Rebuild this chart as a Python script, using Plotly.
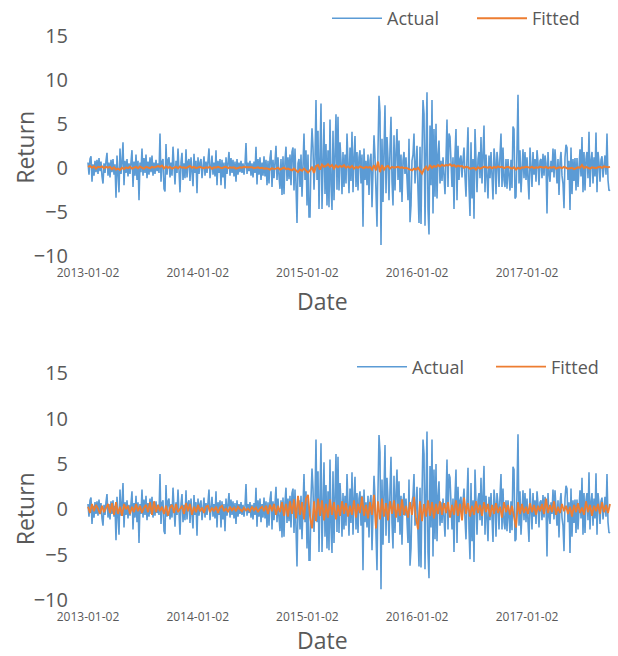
import pandas as pd
import plotly.graph_objects as go

# ---------------- data ----------------
actual = [
    0.6, -0.8, 1.0, 1.3, -1.6, 0.4, -0.9, 0.8, -0.5, 0.9,
    -0.7, 1.1, -0.4, 0.7, -1.0, -1.8, 0.5, -0.6, 0.8, 1.7,
    -0.9, 0.6, -1.1, 0.9, -0.5, 1.0, -0.8, 0.4, -3.4, 1.4,
    -0.6, -2.8, 2.2, -0.7, 0.6, 2.9, -2.0, 0.8, -0.6, 1.0,
    -1.0, 0.5, -0.7, 0.9, 2.0, -2.2, 0.7, -0.9, 1.5, -1.4,
    0.8, -3.7, 0.6, -0.5, 2.2, -0.9, 1.1, -0.6, 1.5, -1.2,
    0.7, -0.8, 1.2, -0.5, 1.4, -0.9, 0.6, -0.7, 0.9, -0.4,
    0.5, -0.6, 3.9, -1.6, 0.7, 1.0, -2.4, -2.7, 2.7, -0.8,
    0.9, 1.2, -1.1, 0.6, -0.9, 2.4, -0.5, -1.9, 0.8, -0.6,
    2.2, -0.7, -2.8, 0.6, 1.7, -1.4, 0.5, -1.2, 2.1, -1.1,
    0.7, 1.0, -1.5, 1.2, -0.8, -2.1, 1.6, -0.6, 0.8, -2.9,
    1.2, -0.7, 0.6, 1.0, -1.2, 0.5, 1.3, -0.9, 0.7, -0.6,
    0.9, 2.2, -1.2, 0.5, 1.4, -0.8, 0.6, -1.0, 2.0, -2.0,
    0.8, -0.6, 1.0, -2.0, 0.9, -1.1, 0.6, -2.4, 1.2, -0.7,
    0.8, 1.8, -0.9, 1.1, -0.6, 0.9, -1.0, 0.7, -1.6, 1.0,
    -0.8, 0.6, -0.5, 0.8, -0.6, 0.5, -0.8, 0.4, 2.8, -0.7,
    0.6, -0.4, 0.8, -0.9, 0.5, -1.1, 0.7, -0.6, 2.4, -1.9,
    1.0, -0.8, 1.2, -1.4, 0.6, -0.9, 1.3, -1.0, 0.9, -2.0,
    0.8, -1.8, 1.1, 2.0, -2.2, 0.9, -1.2, 1.0, 2.5, -1.4,
    1.2, -0.9, -2.4, 1.0, -3.1, 1.3, -3.0, 0.8, 2.4, -1.5,
    1.2, -1.3, 1.5, -2.0, 1.8, 2.3, -2.6, 2.2, -1.5, -6.3,
    0.5, 1.0, -2.2, 1.5, -3.3, 1.8, 3.9, -1.4, 2.0, -4.3,
    1.5, -5.6, -5.6, 1.2, 4.5, 2.3, -2.5, 1.0, 7.7, -1.4,
    4.2, -4.7, 2.5, 7.3, -4.7, 1.8, 5.2, -3.0, 2.7, -4.3,
    2.0, -4.5, 5.5, -2.0, -4.8, 4.2, -3.7, 1.5, 6.1, -2.5,
    5.8, -2.6, 2.9, 0.8, -3.0, 1.8, -2.2, 1.5, -1.8, 3.9,
    0.5, -2.9, 2.3, -1.5, 4.1, -2.8, 1.2, 3.6, -2.2, 1.8,
    -2.6, 1.2, 2.0, -1.8, 1.5, -6.7, 2.2, -1.4, 0.8, -2.0,
    1.5, -3.1, 0.8, 1.6, -4.5, 1.0, 3.7, 1.2, -2.5, -6.7,
    2.0, 8.2, 6.3, -8.8, 3.3, -3.9, 2.0, 7.1, -2.9, 3.5,
    1.0, -3.7, 2.2, 5.8, -1.5, -4.3, 3.7, -2.6, 1.8, 4.4,
    -1.4, 3.1, -2.8, 1.5, -3.9, 0.8, 1.8, -0.7, 1.2, -1.5,
    -3.7, 3.3, -6.2, -4.3, 0.8, 1.5, 3.9, -1.8, 1.0, 2.5,
    -2.6, -6.3, 2.4, -6.4, 1.5, 7.7, 6.1, -6.6, 2.0, 8.6,
    -4.7, -7.6, 4.8, -2.0, 7.7, -5.2, 4.4, -3.3, 5.0, -3.5,
    1.5, 3.1, -1.8, 0.8, -1.5, 1.2, -0.9, -3.0, 1.0, 5.5,
    -2.2, 3.9, 3.5, 0.5, -2.2, 1.2, -4.7, 1.5, 4.4, -3.7,
    2.5, -1.4, 1.0, 1.4, -1.1, 0.8, 2.3, -1.0, -3.3, 1.2,
    4.6, -2.2, -5.5, 2.9, -3.5, 1.0, -5.8, 4.4, 1.2, -2.8,
    1.0, 1.8, -1.2, 3.5, -1.8, 1.0, 4.8, -2.8, 1.5, -1.0,
    -3.5, 1.4, -1.2, 1.8, -0.8, -3.6, 2.2, 0.8, -3.0, 1.8,
    0.6, -2.2, 1.5, 3.9, -2.2, 2.3, -1.4, -2.2, 1.0, -2.4,
    1.0, -0.8, -2.6, 0.9, -2.3, 4.7, 4.4, -3.5, -3.3, 2.1,
    8.3, -1.8, 2.0, -2.8, 0.8, 2.1, -1.2, 1.8, -1.4, 1.2,
    -1.4, -3.6, 2.3, 0.5, -2.2, 1.8, -0.8, 1.0, -1.6, 2.0,
    0.6, -2.0, 0.8, 1.0, -1.2, 1.6, -0.9, 1.4, 0.5, -5.2,
    1.8, -0.6, -1.6, 0.8, -0.5, 2.2, -1.1, 2.1, 0.6, -1.8,
    1.0, -3.1, 0.6, 1.8, -0.9, -1.8, -4.6, 1.2, 2.6, 2.3,
    -1.4, 0.8, -4.8, 2.3, -3.0, 1.0, -1.5, 1.1, -2.6, 1.1,
    -2.2, 0.9, 2.1, -1.0, 3.5, -2.8, 1.8, -2.6, 1.0, 1.8,
    -1.2, 4.1, -2.2, 0.8, 1.8, -1.8, 1.2, -1.0, 4.0, -2.8,
    1.8, 0.6, -1.6, 0.9, 1.3, -1.1, 0.7, 1.4, -0.8, 3.9,
    -1.4, -2.6, -2.5,
]

fitted_top = [
    0.1, 0.2, 0.0, 0.15, -0.1, 0.1, 0.05, 0.15, -0.05, 0.1,
    0.0, 0.1, -0.15, 0.05, -0.2, -0.1, -0.25, 0.0, -0.15, 0.05,
    -0.05, 0.1, -0.1, 0.05, 0.1, -0.05, 0.15, 0.0, -0.1, 0.1,
    0.05, -0.05, 0.1, 0.0, 0.1, 0.2, 0.1, 0.25, -0.05, 0.15,
    0.0, 0.1, -0.1, 0.05, 0.1, -0.05, 0.15, 0.0, 0.05, -0.05,
    0.1, 0.2, 0.0, 0.1, -0.05, 0.05, 0.1, 0.0, -0.05, 0.05,
    0.0, 0.1, -0.1, 0.05, 0.0, 0.1, 0.05, -0.05, 0.05, 0.1,
    -0.05, 0.05, 0.0, 0.05, -0.1, 0.0, 0.05, 0.0, 0.1, 0.05,
    0.05, 0.0, 0.05, -0.05, 0.0, 0.05, -0.05, 0.0, -0.1, -0.05,
    -0.1, -0.2, -0.05, -0.15, -0.1, 0.0, -0.2, -0.1, 0.0, -0.15,
    -0.1, -0.2, -0.3, -0.1, -0.25, -0.5, -0.2, -0.35, -0.1, -0.3,
    -0.55, -0.3, 0.1, -0.6, 0.2, 0.3, -0.2, 0.35, 0.1, 0.2,
    0.4, 0.1, 0.3, -0.1, 0.25, 0.05, 0.2, 0.1, 0.3, 0.0,
    0.15, 0.0, 0.2, -0.1, 0.1, 0.0, 0.15, 0.05, -0.05, 0.1,
    0.0, 0.1, -0.2, 0.3, -0.3, 0.7, -0.5, 0.3, -0.2, 0.1,
    0.2, -0.1, 0.1, 0.0, 0.05, 0.1, 0.0, 0.05, -0.05, 0.0,
    -0.1, -0.2, -0.3, -0.1, -0.2, 0.0, -0.3, -0.65, -0.2, 0.1,
    -0.3, 0.3, 0.0, 0.2, 0.1, 0.3, 0.15, 0.35, 0.2, 0.3,
    0.25, 0.4, 0.2, 0.3, 0.1, 0.25, 0.15, 0.2, 0.0, 0.1,
    0.05, -0.1, -0.05, 0.0, -0.2, 0.05, -0.1, 0.0, 0.1, 0.05,
    0.0, 0.1, -0.05, 0.1, 0.0, 0.15, 0.05, 0.1, -0.05, 0.05,
    0.1, 0.0, -0.1, 0.05, -0.2, 0.0, -0.1, 0.05, 0.0, 0.1,
    0.05, 0.0, 0.1, -0.05, 0.05, 0.0, 0.1, 0.05, 0.0, 0.1,
    -0.05, 0.05, 0.0, 0.1, -0.1, 0.0, 0.05, -0.05, 0.1, 0.0,
    -0.1, -0.05, 0.0, -0.15, -0.05, 0.05, 0.0, 0.3, -0.05, 0.1,
    0.0, -0.1, 0.05, 0.0, -0.05, 0.05, 0.1, 0.0, 0.15, 0.1,
    0.05, 0.1,
]

fitted_bottom = [
    0.3, -0.4, 0.6, -0.2, 0.5, 0.1, -0.5, 0.4, -0.3, 0.2,
    0.6, -0.4, 0.7, -0.6, 0.8, -0.5, 0.3, -0.7, 0.6, 0.0,
    0.4, -0.5, 0.3, -0.3, 0.6, -0.2, 0.4, -0.4, 0.2, 0.5,
    -0.3, 0.8, -0.6, 0.9, -0.3, 0.5, -0.2, 0.3, -0.5, 0.4,
    -0.7, 0.2, 0.5, -0.4, 0.6, -0.3, 0.1, 0.4, -0.5, 0.7,
    -0.2, 0.6, -0.6, 0.3, -0.3, 0.5, -0.2, 0.2, -0.4, 0.3,
    0.4, -0.3, 0.2, -0.2, 0.3, -0.4, 0.2, 0.4, -0.2, 0.1,
    -0.3, 0.3, -0.1, 0.2, -0.2, 0.3, 0.0, -0.2, 0.2, -0.1,
    0.1, -0.2, 0.3, -0.1, 0.2, -0.3, 0.1, 0.3, -0.2, 0.4,
    -0.5, 0.5, -0.2, 0.6, -0.6, 0.4, -0.3, 0.8, -0.7, 0.6,
    -0.8, 0.9, -0.5, 1.1, -1.0, 1.5, -0.6, 0.8, -1.1, 1.2,
    1.6, -0.8, -2.1, 0.9, -1.3, 1.2, -0.7, 1.0, -1.2, 0.6,
    -0.9, 1.1, -0.6, 0.8, -1.1, 0.5, -0.7, 0.9, -0.5, 0.7,
    -0.8, 0.4, -0.6, 1.0, -0.9, 0.6, -0.4, 1.4, -0.7, 0.5,
    -1.0, 0.8, -0.6, 1.6, -2.1, 0.9, -1.1, 1.2, -0.8, 0.7,
    -1.2, 0.9, -0.5, 1.0, -0.9, 0.6, -0.7, 1.1, -0.6, 0.4,
    -0.9, 0.8, -0.6, 1.4, -1.0, -2.2, 0.9, -1.3, 0.6, -0.8,
    1.0, -0.7, 0.8, -1.0, 0.6, -0.5, 0.9, -0.6, 0.7, -0.4,
    0.8, -0.9, 0.5, -0.6, 1.0, -0.7, 0.6, -1.2, 1.3, -0.5,
    0.7, -0.8, 0.4, -0.6, 0.9, -0.4, 0.5, -0.7, 0.8, -0.3,
    0.6, -0.8, 0.5, -0.5, 0.7, -0.4, 0.3, -0.9, 0.8, -0.3,
    0.5, -0.6, 0.4, -0.7, -2.0, 0.8, -0.5, 0.6, -0.4, 0.3,
    -0.5, 0.7, -0.3, 0.5, -0.6, 0.4, -0.2, 0.6, -0.5, 1.2,
    -0.4, 0.5, -0.3, 0.9, -0.6, 0.3, -0.4, 0.6, -0.2, 0.4,
    -0.5, 0.3, -0.8, 0.5, -0.3, 0.7, -0.4, 0.2, -0.6, 0.9,
    -0.3, 0.5, -0.7, 0.4, -0.2, 0.6, -0.5, 0.8, -0.3, 0.5,
    -0.4, 0.6,
]

start_date = "2013-01-02"
end_date = "2017-10-05"
tick_labels = ["2013-01-02", "2014-01-02", "2015-01-02", "2016-01-02", "2017-01-02"]
y_ticks = [-10, -5, 0, 5, 10, 15]
series_names = ["Actual", "Fitted"]
x_title = "Date"
y_title = "Return"

# ---------------- figure ----------------
dates = pd.date_range(start_date, end_date, periods=len(actual))
dates_fit = dates[::2]

BLUE = "#5B9BD5"
ORANGE = "#ED7D31"
GREY = "#595959"
FONT = "Open Sans"

W, H = 618, 656
fig = go.Figure()

fig.add_trace(go.Scatter(x=dates, y=actual, mode="lines", name=series_names[0],
                         line=dict(color=BLUE, width=1.6), xaxis="x", yaxis="y",
                         legend="legend", legendwidth=80))
fig.add_trace(go.Scatter(x=dates_fit, y=fitted_top, mode="lines", name=series_names[1],
                         line=dict(color=ORANGE, width=2.0), xaxis="x", yaxis="y",
                         legend="legend", legendwidth=52))
fig.add_trace(go.Scatter(x=dates, y=actual, mode="lines", name=series_names[0],
                         line=dict(color=BLUE, width=1.6), xaxis="x2", yaxis="y2",
                         legend="legend2", legendwidth=74))
fig.add_trace(go.Scatter(x=dates_fit, y=fitted_bottom, mode="lines", name=series_names[1],
                         line=dict(color=ORANGE, width=1.8), xaxis="x2", yaxis="y2",
                         legend="legend2", legendwidth=52))

span = dates[-1] - dates[0]
pad = span * (4 / 522)
xrange = [dates[0] - pad, dates[-1] + pad]
xdom = [84 / W, 614 / W]

def xaxis(anchor):
    return dict(domain=xdom, range=xrange, anchor=anchor, type="date",
                tickvals=list(pd.to_datetime(tick_labels)), ticktext=tick_labels,
                tickfont=dict(family=FONT, size=12, color=GREY),
                showgrid=False, zeroline=False, showline=False, ticks="",
                ticklabelstandoff=8)

def yaxis(anchor, top_px, bot_px):
    return dict(domain=[1 - bot_px / H, 1 - top_px / H], range=[-10, 15], anchor=anchor,
                tickvals=y_ticks, tickfont=dict(family=FONT, size=20, color=GREY),
                showgrid=False, zeroline=False, showline=False, ticks="",
                ticklabelstandoff=15)

legend_style = dict(orientation="h", xanchor="left", yanchor="middle",
                    font=dict(family=FONT, size=18, color=GREY),
                    itemwidth=50, bgcolor="rgba(0,0,0,0)")

title_font = dict(family=FONT, size=23, color=GREY)
annotations = []
for (xc, yc, txt, ang) in [(323, 300, x_title, 0), (323, 640, x_title, 0),
                           (25, 147, y_title, -90), (25, 509, y_title, -90)]:
    annotations.append(dict(x=xc / W, y=1 - yc / H, xref="paper", yref="paper",
                            text=txt, showarrow=False, textangle=ang,
                            xanchor="center", yanchor="middle", font=title_font))

fig.update_layout(
    width=W, height=H, autosize=False,
    margin=dict(l=0, r=0, t=0, b=0),
    paper_bgcolor="white", plot_bgcolor="white",
    xaxis=xaxis("y"), yaxis=yaxis("x", 35, 255),
    xaxis2=xaxis("y2"), yaxis2=yaxis("x2", 373, 600),
    legend=dict(legend_style, x=327 / W, y=1 - 18 / H),
    legend2=dict(legend_style, x=352 / W, y=1 - 367 / H),
    annotations=annotations,
    showlegend=True,
)
fig.update_xaxes(automargin=False)
fig.update_yaxes(automargin=False)

fig.write_html(
    "out.html",
    config={"responsive": False, "displayModeBar": False},
    post_script="document.body.style.margin='0';document.body.style.overflow='hidden';",
)
